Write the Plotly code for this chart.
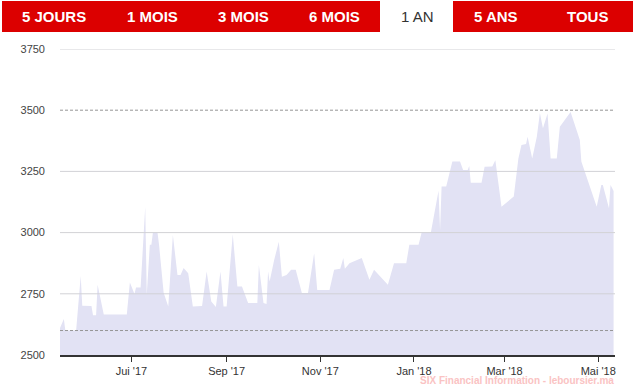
import plotly.graph_objects as go

dates = [
    "2017-05-15", "2017-05-18", "2017-05-19", "2017-05-26", "2017-05-29", "2017-05-30",
    "2017-06-05", "2017-06-06", "2017-06-08", "2017-06-09", "2017-06-13", "2017-06-28",
    "2017-06-30", "2017-07-03", "2017-07-04", "2017-07-07", "2017-07-10", "2017-07-11",
    "2017-07-13", "2017-07-14", "2017-07-15", "2017-07-18", "2017-07-19", "2017-07-22",
    "2017-07-25", "2017-07-28", "2017-07-31", "2017-08-02", "2017-08-04", "2017-08-07",
    "2017-08-10", "2017-08-16", "2017-08-19", "2017-08-22", "2017-08-25", "2017-08-28",
    "2017-08-30", "2017-09-01", "2017-09-05", "2017-09-08", "2017-09-11", "2017-09-15",
    "2017-09-21", "2017-09-22", "2017-09-25", "2017-09-27", "2017-09-28", "2017-09-29",
    "2017-10-02", "2017-10-05", "2017-10-07", "2017-10-10", "2017-10-13", "2017-10-16",
    "2017-10-20", "2017-10-24", "2017-10-28", "2017-10-30", "2017-11-07", "2017-11-10",
    "2017-11-14", "2017-11-16", "2017-11-17", "2017-11-20", "2017-11-28", "2017-12-03",
    "2017-12-06", "2017-12-15", "2017-12-19", "2017-12-27", "2017-12-29", "2018-01-04",
    "2018-01-06", "2018-01-12", "2018-01-17", "2018-01-18", "2018-01-19", "2018-01-22",
    "2018-01-26", "2018-01-31", "2018-02-02", "2018-02-05", "2018-02-06", "2018-02-07",
    "2018-02-14", "2018-02-16", "2018-02-21", "2018-02-23", "2018-02-27", "2018-03-02",
    "2018-03-07", "2018-03-10", "2018-03-12", "2018-03-15", "2018-03-16", "2018-03-19",
    "2018-03-22", "2018-03-24", "2018-03-26", "2018-03-29", "2018-03-31", "2018-04-04",
    "2018-04-06", "2018-04-13", "2018-04-19", "2018-04-20", "2018-04-30", "2018-05-03",
    "2018-05-04", "2018-05-08", "2018-05-09", "2018-05-11",
]
values = [
    2603, 2647, 2600, 2600, 2823, 2701,
    2700, 2662, 2662, 2787, 2665, 2665,
    2796, 2749, 2776, 2776, 3106, 2746,
    2950, 2950, 3000, 3000, 2950, 2754,
    2698, 2990, 2827, 2827, 2855, 2834,
    2698, 2700, 2841, 2719, 2696, 2841,
    2698, 2698, 2993, 2780, 2780, 2712,
    2712, 2868, 2712, 2708, 2841, 2800,
    2889, 2963, 2820, 2827, 2848, 2848,
    2753, 2753, 2916, 2766, 2766, 2848,
    2852, 2896, 2852, 2875, 2896, 2807,
    2848, 2787, 2875, 2875, 2950, 2950,
    3000, 3000, 3171, 3011, 3188, 3188,
    3290, 3290, 3256, 3256, 3272, 3204,
    3204, 3269, 3270, 3296, 3106, 3120,
    3147, 3303, 3358, 3362, 3392, 3303,
    3392, 3489, 3426, 3487, 3303, 3303,
    3432, 3493, 3378, 3290, 3106, 3194,
    3194, 3099, 3194, 3170,
]

y_ticks = [2500, 2750, 3000, 3250, 3500, 3750]
solid_grid = [2750, 3000, 3250, 3750]
dashed_levels = [2600, 3500]
x_tickvals = ["2017-07-01", "2017-09-01", "2017-11-01", "2018-01-01", "2018-03-01", "2018-05-01"]
x_ticktext = ["Jui '17", "Sep '17", "Nov '17", "Jan '18", "Mar '18", "Mai '18"]
buttons = ["5 JOURS", "1 MOIS", "3 MOIS", "6 MOIS", "1 AN", "5 ANS", "TOUS"]
button_centers = [54, 152, 243, 334, 417, 496, 587]
active_button = "1 AN"

W, H = 635, 387
FONT = "Arial, 'Liberation Sans', sans-serif"

fig = go.Figure()
fig.add_trace(go.Scatter(
    x=dates, y=values, mode="lines", line=dict(width=0, color="rgba(0,0,0,0)"),
    fill="tozeroy", fillcolor="rgb(226,226,244)", hoverinfo="x+y", showlegend=False,
))

shapes = []
for g in solid_grid:
    shapes.append(dict(type="line", xref="paper", x0=0, x1=1, yref="y", y0=g, y1=g,
                       line=dict(color="rgb(210,210,214)", width=1), layer="above"))
for g in dashed_levels:
    shapes.append(dict(type="line", xref="paper", x0=0, x1=1, yref="y", y0=g, y1=g,
                       line=dict(color="rgb(150,150,150)", width=1, dash="3px,2px"), layer="above"))

# top button bar
shapes.append(dict(type="rect", xref="paper", yref="paper",
                   x0=(2 - 60) / 555, x1=(380 - 60) / 555,
                   y0=(355 - 32) / 306, y1=(355 - 1) / 306,
                   fillcolor="#dc0000", line=dict(width=0), layer="above"))
shapes.append(dict(type="rect", xref="paper", yref="paper",
                   x0=(453 - 60) / 555, x1=(633 - 60) / 555,
                   y0=(355 - 32) / 306, y1=(355 - 1) / 306,
                   fillcolor="#dc0000", line=dict(width=0), layer="above"))

annotations = []
for label, cx in zip(buttons, button_centers):
    active = label == active_button
    annotations.append(dict(
        text=label if active else f"<b>{label}</b>",
        xref="paper", yref="paper",
        x=(cx - 60) / 555, y=(355 - 17) / 306,
        xanchor="center", yanchor="middle", showarrow=False,
        font=dict(family=FONT, size=15, color="#333333" if active else "#ffffff"),
    ))
annotations.append(dict(
    text="<b>SIX Financial Information - leboursier.ma</b>",
    xref="paper", yref="paper", x=1, y=(355 - 387) / 306,
    xanchor="right", yanchor="bottom", showarrow=False, borderpad=0,
    font=dict(family=FONT, size=10, color="rgb(250,195,195)"),
))

fig.update_layout(
    width=W, height=H,
    margin=dict(l=60, r=20, t=49, b=32, pad=0, autoexpand=False),
    paper_bgcolor="white", plot_bgcolor="white",
    font=dict(family=FONT, size=11, color="#333333"),
    shapes=shapes, annotations=annotations,
    xaxis=dict(
        type="date", range=["2017-05-15 12:00", "2018-05-11 22:00"],
        tickvals=x_tickvals, ticktext=x_ticktext, automargin=False,
        showgrid=False, zeroline=False,
        showline=True, linecolor="#333333", linewidth=1.5,
        ticks="outside", ticklen=5, tickcolor="#333333", tickwidth=1,
        tickfont=dict(size=11, color="#333333"),
    ),
    yaxis=dict(
        range=[2500, 3750], tickvals=y_ticks, automargin=False,
        showgrid=False, zeroline=False, showline=False,
        ticks="", ticklabelstandoff=14,
        tickfont=dict(size=11, color="#444444"),
    ),
)

fig.write_html(
    "out.html",
    config={"displayModeBar": False},
    post_script="document.body.style.margin='0';document.body.style.overflow='hidden';",
)
